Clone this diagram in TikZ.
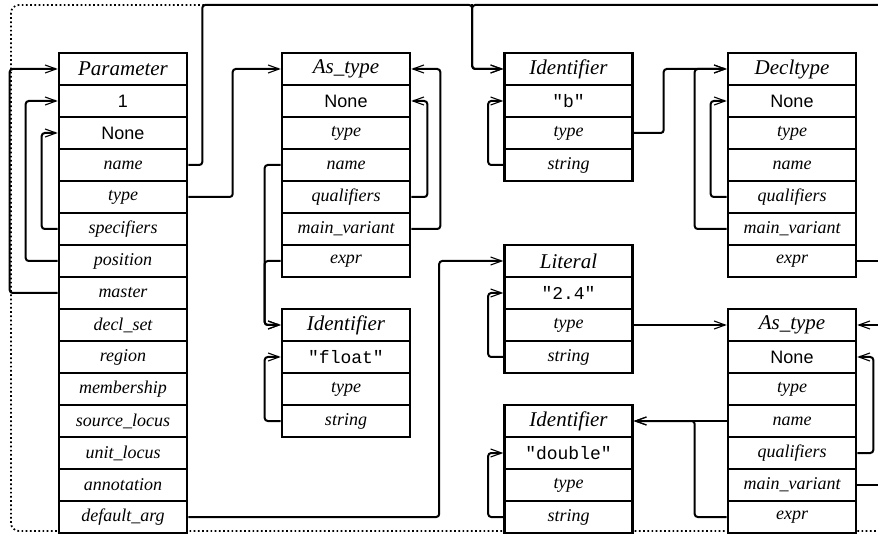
\documentclass[tikz,border=0pt]{standalone}
\usepackage{fontspec}
\setmainfont{Liberation Serif}
\setsansfont{Liberation Sans}
\setmonofont{Liberation Mono}
\usetikzlibrary{arrows.meta,calc}
\begin{document}
\begin{tikzpicture}[x=1pt,y=-1pt,
  cell/.style={draw, fill=white, line width=2.6pt, minimum width=128pt, minimum height=32pt, inner sep=0pt, anchor=center},
  hdr/.style={cell, font=\fontsize{21}{21}\selectfont\itshape},
  fld/.style={cell, font=\fontsize{18}{18}\selectfont\itshape},
  val/.style={cell, font=\fontsize{18}{18}\selectfont\sffamily},
  str/.style={cell, font=\fontsize{18}{18}\selectfont\ttfamily},
  conn/.style={line width=2pt, rounded corners=3pt},
  arr/.style={conn, -{Straight Barb[length=11pt,width=8pt,line width=1.1pt]}},
  border/.style={line width=1.7pt, dash pattern=on 1.7pt off 2.5pt, rounded corners=8pt}
]
\clip (0,0) rectangle (878,534);
\useasboundingbox (0,0) rectangle (878,534);
\fill[white] (0,0) rectangle (878,534);

% dotted frame
\draw[border] (11,5) rectangle (960,531);

% Parameter
\node[hdr] (P0) at (123,69) {Parameter};
\node[val] (P1) at (123,101) {1};
\node[val] (P2) at (123,133) {None};
\node[fld] (P3) at (123,165) {name};
\node[fld] (P4) at (123,197) {type};
\node[fld] (P5) at (123,229) {specifiers};
\node[fld] (P6) at (123,261) {position};
\node[fld] (P7) at (123,293) {master};
\node[fld] (P8) at (123,325) {decl\_set};
\node[fld] (P9) at (123,357) {region};
\node[fld] (P10) at (123,389) {membership};
\node[fld] (P11) at (123,421) {source\_locus};
\node[fld] (P12) at (123,453) {unit\_locus};
\node[fld] (P13) at (123,485) {annotation};
\node[fld] (P14) at (123,517) {default\_arg};

% As_type (top)
\node[hdr] (A0) at (346,69) {As\_type};
\node[val] (A1) at (346,101) {None};
\node[fld] (A2) at (346,133) {type};
\node[fld] (A3) at (346,165) {name};
\node[fld] (A4) at (346,197) {qualifiers};
\node[fld] (A5) at (346,229) {main\_variant};
\node[fld] (A6) at (346,261) {expr};

% Identifier float
\node[hdr] (F0) at (346,325) {Identifier};
\node[str] (F1) at (346,357) {"float"};
\node[fld] (F2) at (346,389) {type};
\node[fld] (F3) at (346,421) {string};

% Identifier b
\node[hdr] (B0) at (568.5,69) {Identifier};
\node[str] (B1) at (568.5,101) {"b"};
\node[fld] (B2) at (568.5,133) {type};
\node[fld] (B3) at (568.5,165) {string};

% Decltype
\node[hdr] (D0) at (792,69) {Decltype};
\node[val] (D1) at (792,101) {None};
\node[fld] (D2) at (792,133) {type};
\node[fld] (D3) at (792,165) {name};
\node[fld] (D4) at (792,197) {qualifiers};
\node[fld] (D5) at (792,229) {main\_variant};
\node[fld] (D6) at (792,261) {expr};

% Literal
\node[hdr] (L0) at (568.5,261) {Literal};
\node[str] (L1) at (568.5,293) {"2.4"};
\node[fld] (L2) at (568.5,325) {type};
\node[fld] (L3) at (568.5,357) {string};

% Identifier double
\node[hdr] (I0) at (568.5,421) {Identifier};
\node[str] (I1) at (568.5,453) {"double"};
\node[fld] (I2) at (568.5,485) {type};
\node[fld] (I3) at (568.5,517) {string};

% As_type (bottom)
\node[hdr] (T0) at (792,325) {As\_type};
\node[val] (T1) at (792,357) {None};
\node[fld] (T2) at (792,389) {type};
\node[fld] (T3) at (792,421) {name};
\node[fld] (T4) at (792,453) {qualifiers};
\node[fld] (T5) at (792,485) {main\_variant};
\node[fld] (T6) at (792,517) {expr};

% off-picture ends
\coordinate (offTop) at (920,5);
\coordinate (offD) at (920,261);
\coordinate (offT0) at (920,325);
\coordinate (offT5) at (920,485);

% Parameter connectors
\draw[arr] (P7.west) -- ++(-48,0) |- (P0.west);
\draw[arr] (P6.west) -- ++(-32,0) |- (P1.west);
\draw[arr] (P5.west) -- ++(-16,0) |- (P2.west);
\draw[arr] (P3.east) -- ++(14,0) -- ++(0,-160) -| ($(B0.west)+(-31,0)$) -- (B0.west);
\draw[arr] (offTop) -| ($(B0.west)+(-31,0)$) -- (B0.west);
\draw[arr] (P4.east) -| ($(A0.west)+(-48,0)$) -- (A0.west);
\draw[arr] (P14.east) -| ($(L0.west)+(-64,0)$) -- (L0.west);

% As_type top
\draw[arr] (A3.west) -| ($(F0.west)+(-16,0)$) -- (F0.west);
\draw[arr] (A6.west) -| ($(F0.west)+(-16,0)$) -- (F0.west);
\draw[arr] (A4.east) -- ++(16,0) |- (A1.east);
\draw[arr] (A5.east) -- ++(29,0) |- (A0.east);

% Identifier float
\draw[arr] (F3.west) -- ++(-16,0) |- (F1.west);

% Identifier b
\draw[arr] (B3.west) -- ++(-15,0) |- (B1.west);
\draw[arr] (B2.east) -| ($(D0.west)+(-63,0)$) -- (D0.west);

% Decltype
\draw[arr] (D4.west) -- ++(-16,0) |- (D1.west);
\draw[arr] (D5.west) -- ++(-32,0) |- (D0.west);
\draw[conn] (D6.east) -- (offD);

% Literal
\draw[arr] (L3.west) -- ++(-15,0) |- (L1.west);
\draw[arr] (L2.east) -- (T0.west);

% Identifier double
\draw[arr] (I3.west) -- ++(-15,0) |- (I1.west);

% As_type bottom
\draw[arr] (T3.west) -- (I0.east);
\draw[arr] (T6.west) -- ++(-32,0) |- (I0.east);
\draw[arr] (T4.east) -- ++(16,0) |- (T1.east);
\draw[conn] (T5.east) -- (offT5);
\draw[arr] (offT0) -- (T0.east);
\end{tikzpicture}
\end{document}
